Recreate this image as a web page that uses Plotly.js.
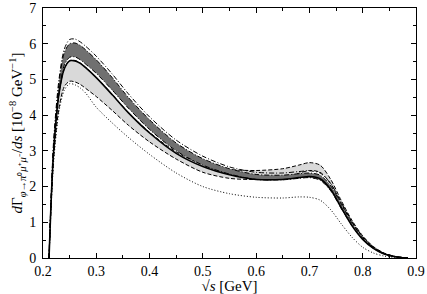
<!DOCTYPE html>
<html><head><meta charset="utf-8">
<script src="https://cdn.plot.ly/plotly-3.0.1.min.js"></script>
<style>html,body{margin:0;padding:0;background:#fff}#c{width:427px;height:294px}</style>
</head><body><div id="c"></div>
<script>
const sqrtS = [0.2113,0.215,0.22,0.23,0.24,0.25,0.26,0.27,0.28,0.30,0.33,0.36,0.40,0.45,0.50,0.55,0.60,0.65,0.68,0.70,0.72,0.74,0.76,0.78,0.80,0.82,0.84,0.86,0.88,0.885];
const outerDashDot = [0,1.6,3.3,5.0,5.85,6.12,6.13,6.05,5.93,5.65,5.15,4.6,3.95,3.3,2.85,2.55,2.4,2.38,2.42,2.44,2.38,2.08,1.55,1.02,0.6,0.31,0.13,0.045,0.005,0];
const darkUpper = [0,1.55,3.2,4.9,5.75,6.0,6.02,5.95,5.83,5.55,5.05,4.5,3.87,3.22,2.78,2.5,2.34,2.32,2.36,2.38,2.32,2.02,1.5,0.98,0.57,0.29,0.12,0.04,0.004,0];
const darkLower = [0,1.5,3.05,4.65,5.4,5.62,5.63,5.55,5.43,5.17,4.7,4.2,3.6,3.0,2.6,2.35,2.2,2.19,2.23,2.25,2.18,1.88,1.38,0.9,0.52,0.27,0.11,0.037,0.004,0];
const solid = [0,1.5,3.0,4.6,5.3,5.52,5.52,5.45,5.33,5.05,4.57,4.07,3.5,2.93,2.56,2.33,2.2,2.2,2.25,2.28,2.22,1.92,1.4,0.9,0.52,0.27,0.11,0.037,0.004,0];
const lightUpper = [0,1.5,3.0,4.6,5.3,5.53,5.53,5.46,5.34,5.06,4.58,4.08,3.52,2.97,2.62,2.48,2.45,2.5,2.6,2.67,2.6,2.2,1.6,1.05,0.62,0.32,0.14,0.048,0.005,0];
const lightLower = [0,1.4,2.8,4.2,4.8,4.95,4.93,4.86,4.75,4.52,4.13,3.72,3.25,2.77,2.4,2.23,2.2,2.26,2.37,2.45,2.4,2.08,1.52,1.0,0.59,0.3,0.13,0.045,0.005,0];
const dotted = [0,1.35,2.7,4.1,4.7,4.88,4.85,4.76,4.62,4.22,3.78,3.38,2.9,2.38,2.0,1.8,1.7,1.68,1.71,1.70,1.62,1.35,0.95,0.58,0.3,0.14,0.055,0.017,0.002,0];

const ln = (y, dash, extra) => Object.assign({x: sqrtS, y: y, mode: 'lines', line: {color: '#000', width: 1, dash: dash, shape: 'spline', smoothing: 0.8}, hoverinfo: 'skip', showlegend: false}, extra || {});
const traces = [
  ln(lightLower, '4px,2px'),
  ln(lightUpper, '4px,2px', {fill: 'tonexty', fillcolor: '#d9d9d9'}),
  ln(darkLower, '5px,2px,1px,2px'),
  ln(darkUpper, '5px,2px,1px,2px', {fill: 'tonexty', fillcolor: '#707070'}),
  ln(outerDashDot, '5px,2px,1px,2px'),
  ln(dotted, '1px,2px'),
  ln(solid, 'solid', {line: {color: '#000', width: 1.6, shape: 'spline', smoothing: 0.8}})
];
const fnt = {family: 'Times New Roman', size: 14, color: '#000'};
const titleFnt = {family: 'Times New Roman', size: 15, color: '#000'};
const axisBase = {showline: true, linecolor: '#000', linewidth: 1, mirror: 'ticks', ticks: 'inside', ticklen: 5, tickcolor: '#000', showgrid: false, zeroline: false, tickfont: fnt, ticklabeloverflow: 'allow'};
const layout = {
  width: 427, height: 294,
  font: fnt,
  margin: {l: 43, r: 11, t: 8, b: 36},
  paper_bgcolor: '#fff', plot_bgcolor: '#fff',
  xaxis: Object.assign({}, axisBase, {range: [0.2, 0.9], dtick: 0.1, tick0: 0.2, tickformat: '.1f', automargin: false, ticklabelstandoff: 0,
    minor: {dtick: 0.05, ticks: 'inside', ticklen: 3, tickcolor: '#000'},
    title: {text: '√<i>s</i> [GeV]', font: titleFnt, standoff: 4}}),
  yaxis: Object.assign({}, axisBase, {range: [0, 7], dtick: 1, automargin: false, ticklabelstandoff: 3,
    minor: {dtick: 0.5, ticks: 'inside', ticklen: 3, tickcolor: '#000'},
    title: {text: '<i>d</i>Γ<sub><i>φ</i>→<i>π</i>⁰<i>μ</i>⁺<i>μ</i>⁻</sub>/<i>ds</i> [10<sup>−8</sup> GeV<sup>−1</sup>]', font: titleFnt, standoff: 2}})
};
Plotly.newPlot('c', traces, layout, {staticPlot: true, displayModeBar: false});
</script></body></html>
